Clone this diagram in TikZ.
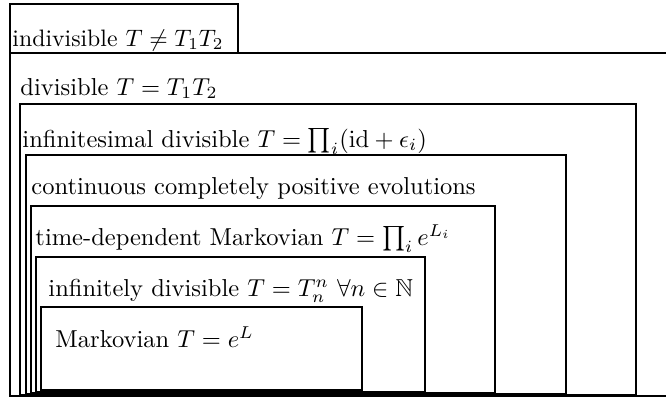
\documentclass[tikz,border=0pt]{standalone}
\usepackage{amssymb}
\usetikzlibrary{fit}
\begin{document}
\begin{tikzpicture}[x=1pt,y=-1pt,
  box/.style={draw, line width=2.6pt, inner sep=0pt},
  lab/.style={anchor=base west, inner sep=0pt, scale=2.45, transform shape}]
\useasboundingbox (0,0) rectangle (666,397);
\node[box, fit={(10,4) (238,53)}] (indiv) {};
\node[box, fit={(10,53) (680,396)}] (div) {};
\node[box, fit={(20,104) (636,395)}] (infs) {};
\node[box, fit={(26,155) (566,394)}] (cont) {};
\node[box, fit={(31,206) (495,393)}] (tdm) {};
\node[box, fit={(36,257) (425,392)}] (infd) {};
\node[box, fit={(41,307) (362,390)}] (mark) {};
\node[lab, scale=0.97] (tindiv) at (12,46) {indivisible $T\neq T_1T_2$};
\node[lab] (tdiv) at (20,95) {divisible $T=T_1T_2$};
\node[lab] (tinfs) at (22,147) {infinitesimal divisible $T=\prod_i(\mathrm{id}+\epsilon_i)$};
\node[lab] (tcont) at (31,194) {continuous completely positive evolutions};
\node[lab] (ttdm) at (35,245) {time-dependent Markovian $T=\prod_i e^{L_i}$};
\node[lab] (tinfd) at (48,296) {infinitely divisible $T=T_n^n\ \forall n\in\mathbb{N}$};
\node[lab] (tmark) at (55,347) {Markovian $T=e^L$};
\end{tikzpicture}
\end{document}
